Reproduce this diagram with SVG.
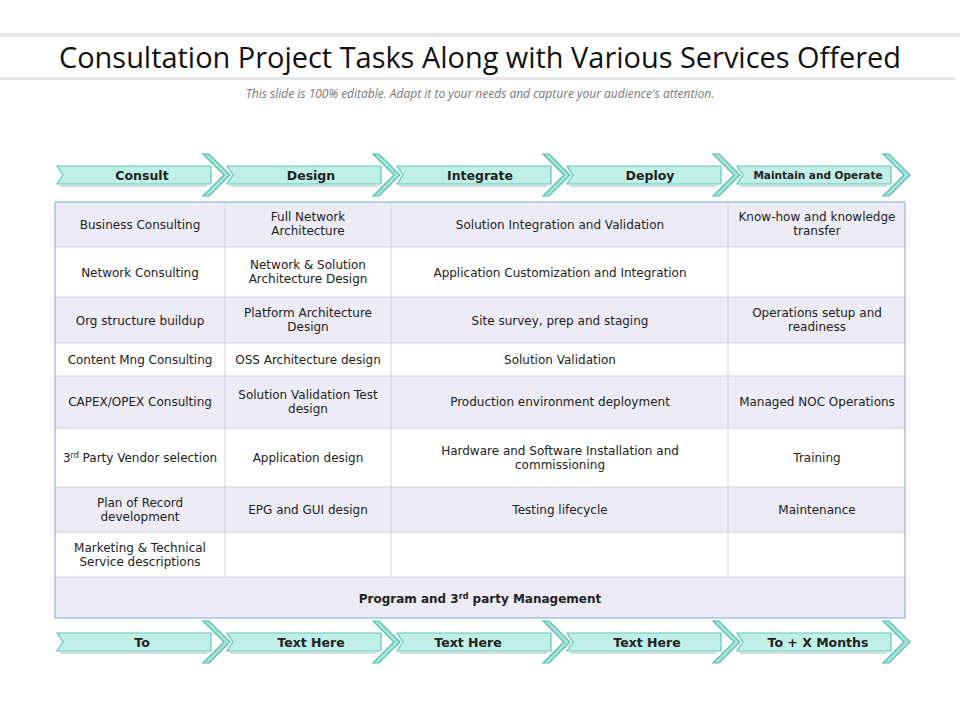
<svg xmlns="http://www.w3.org/2000/svg" width="960" height="720" viewBox="0 0 960 720">
<defs>
<style>
text{font-family:"DejaVu Sans","Liberation Sans",sans-serif;fill:#222;text-anchor:middle}
.c{font-size:12px}
.h{font-size:12.5px;font-weight:bold}
.sh{fill:#edebf5}
.wh{fill:#fff}
.ln{stroke:#d4d2e2;stroke-width:1}
.body{fill:#bfefe7;stroke:#5fc9b8;stroke-width:1.2}
.chev{fill:#a8e3da;stroke:#4fbfae;stroke-width:1.2}
</style>
<g id="arr">
<path class="body" d="M0,6 L154,6 L154,24 L0,24 L6,15 Z"/>
<path class="chev" d="M146,-6 L167,15 L146,36 L152,36 L173,15 L152,-6 Z"/>
<path d="M3,26 L150,26" stroke="#8aa" stroke-width="1.5" opacity="0.5"/>
</g>
</defs>
<rect width="960" height="720" fill="#fff"/>
<rect x="0" y="33" width="960" height="4" fill="#e6e6e6"/>
<rect x="0" y="77" width="955" height="3" fill="#e6e6e6"/>
<text x="480" y="68" textLength="842" lengthAdjust="spacingAndGlyphs" style="font-family:'Open Sans','Liberation Sans',sans-serif;font-size:29px;fill:#111">Consultation Project Tasks Along with Various Services Offered</text>
<text x="480" y="98" style="font-family:'Open Sans','Liberation Sans',sans-serif;font-size:12px;font-style:italic;fill:#777">This slide is 100% editable. Adapt it to your  needs and capture your audience's attention.</text>

<g id="top-arrows">
<use href="#arr" x="57" y="160"/><use href="#arr" x="227" y="160"/><use href="#arr" x="397" y="160"/><use href="#arr" x="567" y="160"/><use href="#arr" x="737" y="160"/>
<text class="h" x="142" y="180">Consult</text>
<text class="h" x="311" y="180">Design</text>
<text class="h" x="480" y="180">Integrate</text>
<text class="h" x="650" y="180">Deploy</text>
<text class="h" x="818" y="179" style="font-size:10.5px">Maintain and Operate</text>
</g>

<g id="table">
<rect x="55" y="202" width="850" height="45" class="sh"/>
<rect x="55" y="247" width="850" height="50" class="wh"/>
<rect x="55" y="297" width="850" height="46" class="sh"/>
<rect x="55" y="343" width="850" height="33" class="wh"/>
<rect x="55" y="376" width="850" height="52" class="sh"/>
<rect x="55" y="428" width="850" height="59" class="wh"/>
<rect x="55" y="487" width="850" height="45" class="sh"/>
<rect x="55" y="532" width="850" height="45" class="wh"/>
<rect x="55" y="577" width="850" height="41" class="sh"/>
<g class="ln">
<line x1="55" y1="247" x2="905" y2="247"/><line x1="55" y1="297" x2="905" y2="297"/><line x1="55" y1="343" x2="905" y2="343"/><line x1="55" y1="376" x2="905" y2="376"/><line x1="55" y1="428" x2="905" y2="428"/><line x1="55" y1="487" x2="905" y2="487"/><line x1="55" y1="532" x2="905" y2="532"/><line x1="55" y1="577" x2="905" y2="577"/>
<line x1="225" y1="202" x2="225" y2="577"/><line x1="391" y1="202" x2="391" y2="577"/><line x1="728" y1="202" x2="728" y2="577"/>
</g>
<rect x="55" y="202" width="850" height="416" fill="none" stroke="#8bb8dc" stroke-width="1.2"/>
</g>

<g id="cells">
<text class="c" x="140" y="229">Business Consulting</text>
<text class="c" x="308" y="221">Full Network</text><text class="c" x="308" y="235">Architecture</text>
<text class="c" x="560" y="229">Solution Integration and Validation</text>
<text class="c" x="817" y="221">Know-how and knowledge</text><text class="c" x="817" y="235">transfer</text>

<text class="c" x="140" y="277">Network Consulting</text>
<text class="c" x="308" y="269">Network &amp; Solution</text><text class="c" x="308" y="283">Architecture Design</text>
<text class="c" x="560" y="277">Application Customization and Integration</text>

<text class="c" x="140" y="325">Org structure buildup</text>
<text class="c" x="308" y="317">Platform Architecture</text><text class="c" x="308" y="331">Design</text>
<text class="c" x="560" y="325">Site survey, prep and staging</text>
<text class="c" x="817" y="317">Operations setup and</text><text class="c" x="817" y="331">readiness</text>

<text class="c" x="140" y="364">Content Mng Consulting</text>
<text class="c" x="308" y="364">OSS Architecture design</text>
<text class="c" x="560" y="364">Solution Validation</text>

<text class="c" x="140" y="406">CAPEX/OPEX Consulting</text>
<text class="c" x="308" y="399">Solution Validation Test</text><text class="c" x="308" y="413">design</text>
<text class="c" x="560" y="406">Production environment deployment</text>
<text class="c" x="817" y="406">Managed NOC Operations</text>

<text class="c" x="140" y="462">3<tspan dy="-4" font-size="8">rd</tspan><tspan dy="4"> Party Vendor selection</tspan></text>
<text class="c" x="308" y="462">Application design</text>
<text class="c" x="560" y="455">Hardware and Software Installation and</text><text class="c" x="560" y="469">commissioning</text>
<text class="c" x="817" y="462">Training</text>

<text class="c" x="140" y="507">Plan of Record</text><text class="c" x="140" y="521">development</text>
<text class="c" x="308" y="514">EPG and GUI design</text>
<text class="c" x="560" y="514">Testing lifecycle</text>
<text class="c" x="817" y="514">Maintenance</text>

<text class="c" x="140" y="552">Marketing &amp; Technical</text><text class="c" x="140" y="566">Service descriptions</text>

<text class="h" x="480" y="603" style="font-size:12px">Program and 3<tspan dy="-4" font-size="8">rd</tspan><tspan dy="4"> party Management</tspan></text>
</g>

<g id="bottom-arrows">
<use href="#arr" x="57" y="627"/><use href="#arr" x="227" y="627"/><use href="#arr" x="397" y="627"/><use href="#arr" x="567" y="627"/><use href="#arr" x="737" y="627"/>
<text class="h" x="142" y="647">To</text>
<text class="h" x="311" y="647">Text Here</text>
<text class="h" x="468" y="647">Text Here</text>
<text class="h" x="647" y="647">Text Here</text>
<text class="h" x="818" y="647">To + X Months</text>
</g>
</svg>
